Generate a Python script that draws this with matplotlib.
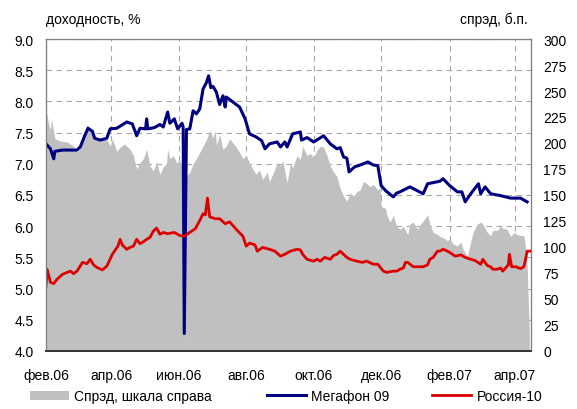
import numpy as np
import pandas as pd
import matplotlib
matplotlib.use("Agg")
import matplotlib.pyplot as plt
from matplotlib.patches import Patch
from matplotlib.lines import Line2D

plt.rcParams['font.family'] = ['Liberation Sans', 'DejaVu Sans']
plt.rcParams['font.size'] = 10

# spread, b.p. (right scale)
spread_dates = [
    "2006-02-01", "2006-02-02", "2006-02-03", "2006-02-05", "2006-02-06", "2006-02-09",
    "2006-02-14", "2006-02-20", "2006-02-26", "2006-03-01", "2006-03-04", "2006-03-06",
    "2006-03-10", "2006-03-13", "2006-03-17", "2006-03-22", "2006-03-27", "2006-03-31",
    "2006-04-02", "2006-04-06", "2006-04-09", "2006-04-13", "2006-04-18", "2006-04-21",
    "2006-04-24", "2006-04-27", "2006-04-30", "2006-05-03", "2006-05-06", "2006-05-09",
    "2006-05-12", "2006-05-15", "2006-05-18", "2006-05-21", "2006-05-22", "2006-05-24",
    "2006-05-27", "2006-05-30", "2006-06-02", "2006-06-05 20:00", "2006-06-06", "2006-06-06 04:00",
    "2006-06-08", "2006-06-11", "2006-06-14", "2006-06-17", "2006-06-20", "2006-06-23",
    "2006-06-26", "2006-06-29", "2006-07-02", "2006-07-04", "2006-07-05", "2006-07-08",
    "2006-07-11", "2006-07-14", "2006-07-17", "2006-07-20", "2006-07-23", "2006-07-26",
    "2006-07-29", "2006-08-01", "2006-08-04", "2006-08-07", "2006-08-10", "2006-08-13",
    "2006-08-16", "2006-08-20", "2006-08-22", "2006-08-25", "2006-08-29", "2006-09-01",
    "2006-09-03", "2006-09-07", "2006-09-10", "2006-09-12", "2006-09-16", "2006-09-19",
    "2006-09-21", "2006-09-25", "2006-09-28", "2006-10-01", "2006-10-04", "2006-10-07",
    "2006-10-10", "2006-10-13", "2006-10-16", "2006-10-19", "2006-10-22", "2006-10-25",
    "2006-10-28", "2006-10-31", "2006-11-03", "2006-11-06", "2006-11-09", "2006-11-12",
    "2006-11-15", "2006-11-18", "2006-11-21", "2006-11-24", "2006-11-28", "2006-11-30",
    "2006-12-01", "2006-12-05", "2006-12-06", "2006-12-09", "2006-12-12", "2006-12-15",
    "2006-12-18", "2006-12-21", "2006-12-25", "2006-12-27", "2006-12-30", "2007-01-03",
    "2007-01-05", "2007-01-08", "2007-01-12", "2007-01-14", "2007-01-17", "2007-01-21",
    "2007-01-23", "2007-01-26", "2007-01-30", "2007-02-01", "2007-02-04", "2007-02-08",
    "2007-02-11", "2007-02-13", "2007-02-17", "2007-02-20", "2007-02-22", "2007-02-26",
    "2007-03-01", "2007-03-03", "2007-03-07", "2007-03-10", "2007-03-12", "2007-03-16",
    "2007-03-19", "2007-03-21", "2007-03-25", "2007-03-28", "2007-03-31", "2007-04-03",
    "2007-04-06", "2007-04-09", "2007-04-10", "2007-04-12", "2007-04-13", "2007-04-14",
]
spread_bp = [
    226, 228, 220, 213, 223, 204,
    202, 201, 197, 191, 195, 201,
    218, 212, 204, 202, 205, 197,
    204, 192, 196, 199, 194, 188,
    175, 181, 185, 194, 178, 173,
    182, 170, 177, 180, 194, 185,
    188, 181, 183, 170, 0, 168,
    168, 172, 180, 185, 191, 197,
    203, 212, 205, 212, 198, 208,
    194, 197, 204, 200, 196, 191,
    185, 188, 181, 175, 170, 174,
    165, 172, 163, 170, 181, 178,
    183, 162, 181, 176, 188, 184,
    197, 188, 190, 186, 193, 197,
    196, 188, 178, 172, 168, 156,
    149, 144, 152, 149, 153, 155,
    163, 161, 158, 160, 155, 157,
    139, 137, 131, 124, 130, 120,
    117, 120, 112, 122, 124, 117,
    121, 125, 131, 122, 114, 112,
    110, 109, 106, 108, 103, 101,
    105, 98, 91, 105, 114, 122,
    124, 122, 114, 111, 116, 116,
    120, 118, 117, 110, 114, 112,
    111, 111, 105, 82, 50, 18,
]

# Megafon 09 yield, %
megafon_dates = [
    "2006-02-01", "2006-02-05", "2006-02-08", "2006-02-09", "2006-02-16", "2006-02-23",
    "2006-03-01", "2006-03-04", "2006-03-08", "2006-03-11", "2006-03-15", "2006-03-17",
    "2006-03-22", "2006-03-28", "2006-03-31", "2006-04-06", "2006-04-15", "2006-04-20",
    "2006-04-24", "2006-04-27", "2006-05-02", "2006-05-03", "2006-05-04", "2006-05-10",
    "2006-05-15", "2006-05-18", "2006-05-22", "2006-05-24", "2006-05-28", "2006-05-31",
    "2006-06-04", "2006-06-05", "2006-06-06", "2006-06-08", "2006-06-11", "2006-06-14",
    "2006-06-17", "2006-06-20", "2006-06-23", "2006-06-26", "2006-06-28", "2006-06-30",
    "2006-07-02", "2006-07-05", "2006-07-08", "2006-07-11", "2006-07-13", "2006-07-14",
    "2006-07-20", "2006-07-26", "2006-07-31", "2006-08-02", "2006-08-04", "2006-08-10",
    "2006-08-15", "2006-08-18", "2006-08-22", "2006-08-29", "2006-09-01", "2006-09-05",
    "2006-09-07", "2006-09-12", "2006-09-19", "2006-09-20", "2006-09-25", "2006-10-01",
    "2006-10-10", "2006-10-16", "2006-10-22", "2006-10-25", "2006-10-28", "2006-10-31",
    "2006-11-02", "2006-11-07", "2006-11-15", "2006-11-19", "2006-11-24", "2006-11-28",
    "2006-12-01", "2006-12-05", "2006-12-12", "2006-12-15", "2006-12-18", "2006-12-27",
    "2007-01-08", "2007-01-12", "2007-01-23", "2007-01-26", "2007-02-01", "2007-02-08",
    "2007-02-12", "2007-02-15", "2007-02-20", "2007-02-27", "2007-03-01", "2007-03-05",
    "2007-03-10", "2007-03-19", "2007-03-28", "2007-04-06", "2007-04-12",
]
megafon_yield = [
    7.32, 7.24, 7.08, 7.20, 7.22, 7.22,
    7.22, 7.27, 7.45, 7.57, 7.52, 7.41,
    7.38, 7.41, 7.56, 7.57, 7.67, 7.64,
    7.45, 7.57, 7.56, 7.72, 7.56, 7.58,
    7.63, 7.59, 7.83, 7.65, 7.72, 7.56,
    7.65, 7.59, 4.28, 7.55, 7.56, 7.85,
    7.80, 7.88, 8.20, 8.30, 8.41, 8.22,
    8.24, 8.15, 7.95, 8.09, 7.91, 8.07,
    7.99, 7.91, 7.72, 7.60, 7.48, 7.43,
    7.37, 7.24, 7.32, 7.35, 7.27, 7.35,
    7.27, 7.48, 7.51, 7.38, 7.42, 7.35,
    7.45, 7.32, 7.24, 7.26, 7.11, 7.09,
    6.87, 6.95, 7.00, 7.03, 6.98, 6.97,
    6.65, 6.57, 6.47, 6.53, 6.55, 6.63,
    6.52, 6.68, 6.72, 6.76, 6.65, 6.55,
    6.55, 6.39, 6.52, 6.68, 6.52, 6.63,
    6.52, 6.49, 6.45, 6.45, 6.39,
]

# Russia-10 yield, %
russia_dates = [
    "2006-02-01", "2006-02-02", "2006-02-05", "2006-02-08", "2006-02-11", "2006-02-16",
    "2006-02-23", "2006-02-26", "2006-03-01", "2006-03-06", "2006-03-10", "2006-03-13",
    "2006-03-16", "2006-03-19", "2006-03-24", "2006-03-28", "2006-04-02", "2006-04-07",
    "2006-04-09", "2006-04-11", "2006-04-15", "2006-04-18", "2006-04-21", "2006-04-24",
    "2006-04-27", "2006-04-30", "2006-05-03", "2006-05-06", "2006-05-09", "2006-05-12",
    "2006-05-15", "2006-05-18", "2006-05-22", "2006-05-28", "2006-06-02", "2006-06-06",
    "2006-06-11", "2006-06-16", "2006-06-20", "2006-06-23", "2006-06-25", "2006-06-27",
    "2006-06-29", "2006-07-04", "2006-07-08", "2006-07-13", "2006-07-17", "2006-07-23",
    "2006-07-29", "2006-08-01", "2006-08-04", "2006-08-09", "2006-08-11", "2006-08-16",
    "2006-08-22", "2006-08-27", "2006-09-01", "2006-09-05", "2006-09-10", "2006-09-16",
    "2006-09-19", "2006-09-21", "2006-09-25", "2006-10-01", "2006-10-04", "2006-10-07",
    "2006-10-11", "2006-10-16", "2006-10-19", "2006-10-22", "2006-10-25", "2006-10-28",
    "2006-10-31", "2006-11-03", "2006-11-09", "2006-11-14", "2006-11-18", "2006-11-24",
    "2006-11-28", "2006-12-03", "2006-12-06", "2006-12-12", "2006-12-15", "2006-12-18",
    "2006-12-21", "2006-12-23", "2006-12-25", "2006-12-30", "2007-01-05", "2007-01-08",
    "2007-01-12", "2007-01-14", "2007-01-17", "2007-01-21", "2007-01-23", "2007-01-26",
    "2007-01-30", "2007-02-01", "2007-02-06", "2007-02-11", "2007-02-15", "2007-02-20",
    "2007-02-24", "2007-03-01", "2007-03-03", "2007-03-07", "2007-03-10", "2007-03-12",
    "2007-03-16", "2007-03-19", "2007-03-21", "2007-03-26", "2007-03-27", "2007-03-29",
    "2007-04-02", "2007-04-06", "2007-04-09", "2007-04-10", "2007-04-12", "2007-04-15",
]
russia_yield = [
    5.04, 5.31, 5.10, 5.08, 5.15, 5.23,
    5.28, 5.24, 5.28, 5.42, 5.40, 5.47,
    5.38, 5.34, 5.30, 5.36, 5.55, 5.68,
    5.79, 5.70, 5.63, 5.66, 5.68, 5.79,
    5.72, 5.75, 5.79, 5.82, 5.92, 5.97,
    5.87, 5.90, 5.88, 5.90, 5.85, 5.84,
    5.90, 5.96, 6.09, 6.20, 6.18, 6.45,
    6.15, 6.12, 6.12, 6.04, 6.07, 5.95,
    5.84, 5.68, 5.73, 5.70, 5.60, 5.66,
    5.63, 5.60, 5.52, 5.55, 5.60, 5.63,
    5.62, 5.55, 5.47, 5.44, 5.47, 5.44,
    5.50, 5.47, 5.53, 5.55, 5.60, 5.55,
    5.50, 5.47, 5.44, 5.42, 5.44, 5.39,
    5.39, 5.28, 5.26, 5.28, 5.28, 5.31,
    5.33, 5.42, 5.42, 5.35, 5.35, 5.35,
    5.38, 5.47, 5.50, 5.60, 5.60, 5.63,
    5.60, 5.58, 5.52, 5.54, 5.50, 5.47,
    5.45, 5.39, 5.47, 5.37, 5.35, 5.31,
    5.31, 5.33, 5.28, 5.38, 5.55, 5.35,
    5.35, 5.32, 5.35, 5.42, 5.60, 5.60,
]

tick_dates = ["2006-02-01", "2006-04-01", "2006-06-01", "2006-08-01",
              "2006-10-01", "2006-12-01", "2007-02-01", "2007-04-01"]
tick_labels = ["фев.06", "апр.06", "июн.06", "авг.06",
               "окт.06", "дек.06", "фев.07", "апр.07"]

GRAY = '#c0c0c0'
BLUE = '#000080'
RED = '#dd0000'

def to_dt(xs):
    return pd.to_datetime(xs, format='mixed')

fig = plt.figure(figsize=(5.77, 4.10), dpi=100)
ax1 = fig.add_axes([46/577, 1 - 352/410, (531 - 46)/577, (352 - 40)/410])
ax2 = ax1.twinx()
ax3 = ax1.twinx()

# grid + left (yield) scale
ax1.set_ylim(4.0, 9.0)
ax1.set_yticks(np.arange(4.0, 9.01, 0.5))
ax1.yaxis.set_major_formatter(plt.FuncFormatter(lambda v, p: f"{v:.1f}"))
ax1.set_xticks(to_dt(tick_dates))
ax1.set_xticklabels(tick_labels)
ax1.set_xlim(pd.Timestamp("2006-02-01"), pd.Timestamp("2007-04-15 12:00"))
ax1.grid(True, color='#a6a6a6', linestyle=(0, (5, 4)), linewidth=0.8)
ax1.tick_params(axis='y', length=0, pad=9)
ax1.tick_params(axis='x', length=0, pad=12)

# spread area on right scale
ax2.fill_between(to_dt(spread_dates), spread_bp, 0, color=GRAY, linewidth=0)
ax2.set_ylim(0, 300)
ax2.set_yticks(np.arange(0, 301, 25))
ax2.tick_params(axis='y', length=0, pad=9)

# yield lines on top
ax3.plot(to_dt(megafon_dates), megafon_yield, color=BLUE, lw=2.2)
ax3.plot(to_dt(russia_dates), russia_yield, color=RED, lw=2.0)
ax3.set_ylim(4.0, 9.0)
ax3.set_yticks([])

for a in (ax1, ax2, ax3):
    for s in a.spines.values():
        s.set_color('#808080')
        s.set_linewidth(0.8)
    a.spines['bottom'].set_color('#333333')
    a.spines['bottom'].set_linewidth(1.2)

fig.text(46/577, 1 - 20/410, "доходность, %", ha='left', va='center')
fig.text(528/577, 1 - 20/410, "спрэд, б.п.", ha='right', va='center')

handles = [Patch(facecolor=GRAY, edgecolor='none'),
           Line2D([], [], color=BLUE, lw=2.2),
           Line2D([], [], color=RED, lw=2.0)]
labels = ["Спрэд, шкала справа", "Мегафон 09", "Россия-10"]
starts = [30, 267, 432]
for h, lab, x0 in zip(handles, labels, starts):
    fig.legend([h], [lab], loc='center left', bbox_to_anchor=(x0/577, 1 - 397/410),
               frameon=False, handlelength=2.8, handleheight=0.6,
               handletextpad=0.4, borderaxespad=0, borderpad=0)

fig.savefig("out.png", dpi=100)
